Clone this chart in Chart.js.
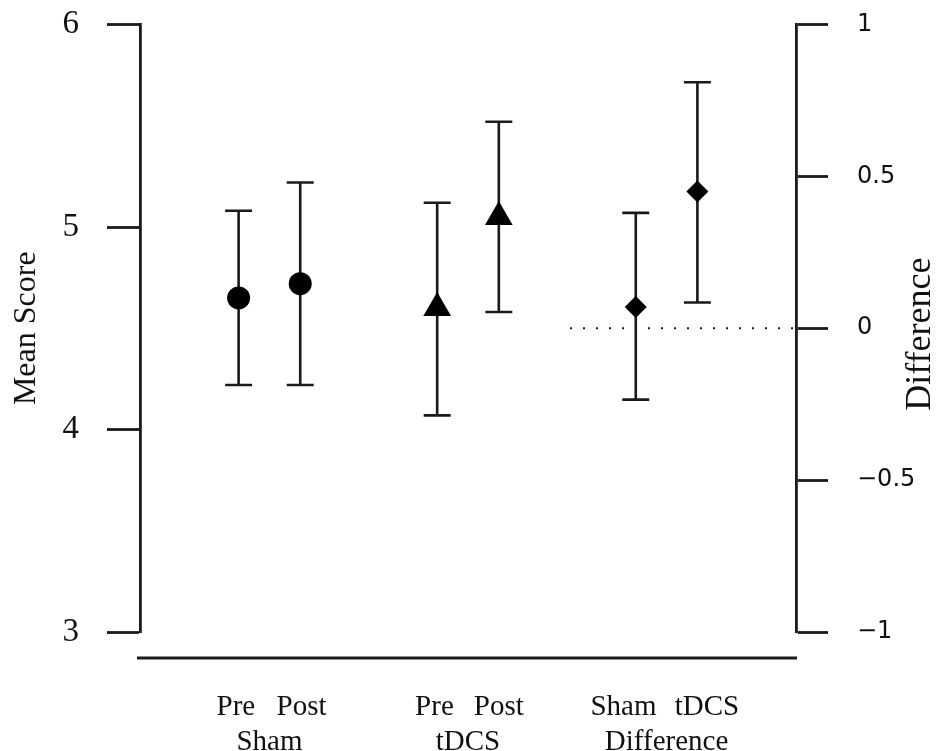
<!DOCTYPE html>
<html>
<head>
<meta charset="utf-8">
<script src="https://cdn.jsdelivr.net/npm/chart.js@4"></script>
<style>
  html, body { margin: 0; padding: 0; background: #fff; }
</style>
</head>
<body>
<canvas id="scoreChart" width="938" height="751"></canvas>
<script>
// marker positions along the x axis (Pre/Post pairs, grouped)
const xPos = [1, 1.45, 2.45, 2.9, 3.9, 4.35];
// where the first-row labels sit (the Sham/tDCS pair is spread a little wider)
const xLabelPos = [0.98, 1.46, 2.43, 2.9, 3.81, 4.42];
const pointLabels = ['Pre', 'Post', 'Pre', 'Post', 'Sham', 'tDCS'];
const groupLabels = ['Sham', 'tDCS', 'Difference'];

// mean scores with error bar limits (left axis)
const shamMean = [4.65, 4.72];
const shamLow = [4.22, 4.22];
const shamHigh = [5.08, 5.22];

const tdcsMean = [4.60, 5.05];
const tdcsLow = [4.07, 4.58];
const tdcsHigh = [5.12, 5.52];

// differences (right axis)
const diffMean = [0.07, 0.45];
const diffLow = [-0.235, 0.085];
const diffHigh = [0.38, 0.81];

const leftTicks = [3, 4, 5, 6];
const rightTicks = [-1, -0.5, 0, 0.5, 1];
const rightTickLabels = ['\u22121', '\u22120.5', '0', '0.5', '1'];

const zeroLineX = [3.42, 5.07];

const ink = '#1a1a1a';
const textInk = '#111';
const serif = "'Liberation Serif', 'Times New Roman', serif";

const groupMid = [0, 1, 2].map(g => (xPos[2 * g] + xPos[2 * g + 1]) / 2);
const xTickValues = xLabelPos.concat(groupMid);
const xTickLabels = pointLabels.concat(groupLabels.map(g => ['', g]));

function pts(xs, ys) {
    return ys.map((y, i) => ({ x: xs[i], y: y }));
}

// fixed axis widths so the plot box lands where the original has it
function fixWidth(w) {
    return s => {
        s.width = w;
        s.paddingTop = 0;
        s.paddingBottom = 0;
    };
}

// whiskers drawn under the markers
const errorBars = {
    id: 'errorBars',
    beforeDatasetsDraw(chart) {
        const ctx = chart.ctx;
        const cap = 13.5;
        chart.data.datasets.forEach((ds, i) => {
            if (!ds.errLow) return;
            const meta = chart.getDatasetMeta(i);
            const xs = chart.scales.x;
            const ys = chart.scales[meta.yAxisID];
            ctx.save();
            ctx.strokeStyle = ink;
            ctx.lineWidth = 2.6;
            ds.data.forEach((p, j) => {
                const x = xs.getPixelForValue(p.x);
                const y1 = ys.getPixelForValue(ds.errLow[j]);
                const y2 = ys.getPixelForValue(ds.errHigh[j]);
                ctx.beginPath();
                ctx.moveTo(x, y1); ctx.lineTo(x, y2);
                ctx.moveTo(x - cap, y1); ctx.lineTo(x + cap, y1);
                ctx.moveTo(x - cap, y2); ctx.lineTo(x + cap, y2);
                ctx.stroke();
            });
            ctx.restore();
        });
    }
};

// baseline under the plot and the right axis title (reads bottom to top)
const extras = {
    id: 'extras',
    afterDraw(chart) {
        const ctx = chart.ctx;
        const a = chart.chartArea;
        ctx.save();
        ctx.strokeStyle = ink;
        ctx.lineWidth = 2.8;
        ctx.beginPath();
        ctx.moveTo(a.left - 3, a.bottom + 26);
        ctx.lineTo(a.right + 1, a.bottom + 26);
        ctx.stroke();

        ctx.fillStyle = textInk;
        ctx.font = '36px ' + serif;
        ctx.textAlign = 'center';
        ctx.textBaseline = 'middle';
        ctx.translate(a.right + 125, (a.top + a.bottom) / 2 + 6);
        ctx.rotate(-Math.PI / 2);
        ctx.fillText('Difference', 0, 0);
        ctx.restore();
    }
};

const ctx = document.getElementById('scoreChart').getContext('2d');

new Chart(ctx, {
    type: 'scatter',
    data: {
        datasets: [
            {
                label: 'Sham',
                data: pts(xPos.slice(0, 2), shamMean),
                errLow: shamLow, errHigh: shamHigh,
                yAxisID: 'y',
                pointStyle: 'circle', pointRadius: 11.5,
                backgroundColor: '#000', borderColor: '#000', borderWidth: 0,
                clip: false, order: 0
            },
            {
                label: 'tDCS',
                data: pts(xPos.slice(2, 4), tdcsMean),
                errLow: tdcsLow, errHigh: tdcsHigh,
                yAxisID: 'y',
                pointStyle: 'triangle', pointRadius: 16,
                backgroundColor: '#000', borderColor: '#000', borderWidth: 0,
                clip: false, order: 0
            },
            {
                label: 'Difference',
                data: pts(xPos.slice(4, 6), diffMean),
                errLow: diffLow, errHigh: diffHigh,
                yAxisID: 'y2',
                pointStyle: 'rectRot', pointRadius: 11,
                backgroundColor: '#000', borderColor: '#000', borderWidth: 0,
                clip: false, order: 0
            },
            {
                label: 'zero',
                data: pts(zeroLineX, [0, 0]),
                yAxisID: 'y2',
                showLine: true,
                borderColor: ink, borderWidth: 2, borderDash: [2, 11],
                pointRadius: 0, order: 1
            }
        ]
    },
    options: {
        responsive: false,
        animation: false,
        events: [],
        layout: { padding: { top: 24.5, left: 0, right: 0, bottom: 0 } },
        plugins: { legend: { display: false }, tooltip: { enabled: false } },
        scales: {
            x: {
                type: 'linear',
                min: 0.28,
                max: 5.07,
                afterBuildTicks: s => { s.ticks = xTickValues.map(v => ({ value: v })); },
                afterFit: s => { s.height = 119; },
                grid: { display: false, drawTicks: false },
                border: { display: false },
                ticks: {
                    autoSkip: false, maxRotation: 0, minRotation: 0,
                    padding: 58, color: textInk,
                    font: { family: serif, size: 29, lineHeight: 1.2 },
                    callback: (v, i) => xTickLabels[i]
                }
            },
            y: {
                position: 'left',
                min: 3, max: 6,
                afterBuildTicks: s => { s.ticks = leftTicks.map(v => ({ value: v })); },
                afterFit: fixWidth(140),
                grid: { drawOnChartArea: false, drawTicks: true, tickLength: 33, tickWidth: 2.8, color: ink },
                border: { display: true, width: 2.8, color: ink },
                ticks: {
                    padding: 28, color: textInk,
                    font: { family: serif, size: 33 },
                    callback: v => String(v)
                },
                title: {
                    display: true, text: 'Mean Score', color: textInk,
                    font: { family: serif, size: 32, lineHeight: 1.2 },
                    padding: { top: 7, bottom: 0 }
                }
            },
            y2: {
                position: 'right',
                min: -1, max: 1,
                afterBuildTicks: s => { s.ticks = rightTicks.map(v => ({ value: v })); },
                afterFit: fixWidth(142),
                grid: { drawOnChartArea: false, drawTicks: true, tickLength: 32, tickWidth: 2.8, color: ink },
                border: { display: true, width: 2.8, color: ink },
                ticks: {
                    padding: 29, color: textInk,
                    font: { family: "'DejaVu Sans', sans-serif", size: 24 },
                    callback: (v, i) => rightTickLabels[i]
                }
            }
        }
    },
    plugins: [errorBars, extras]
});
</script>
</body>
</html>
